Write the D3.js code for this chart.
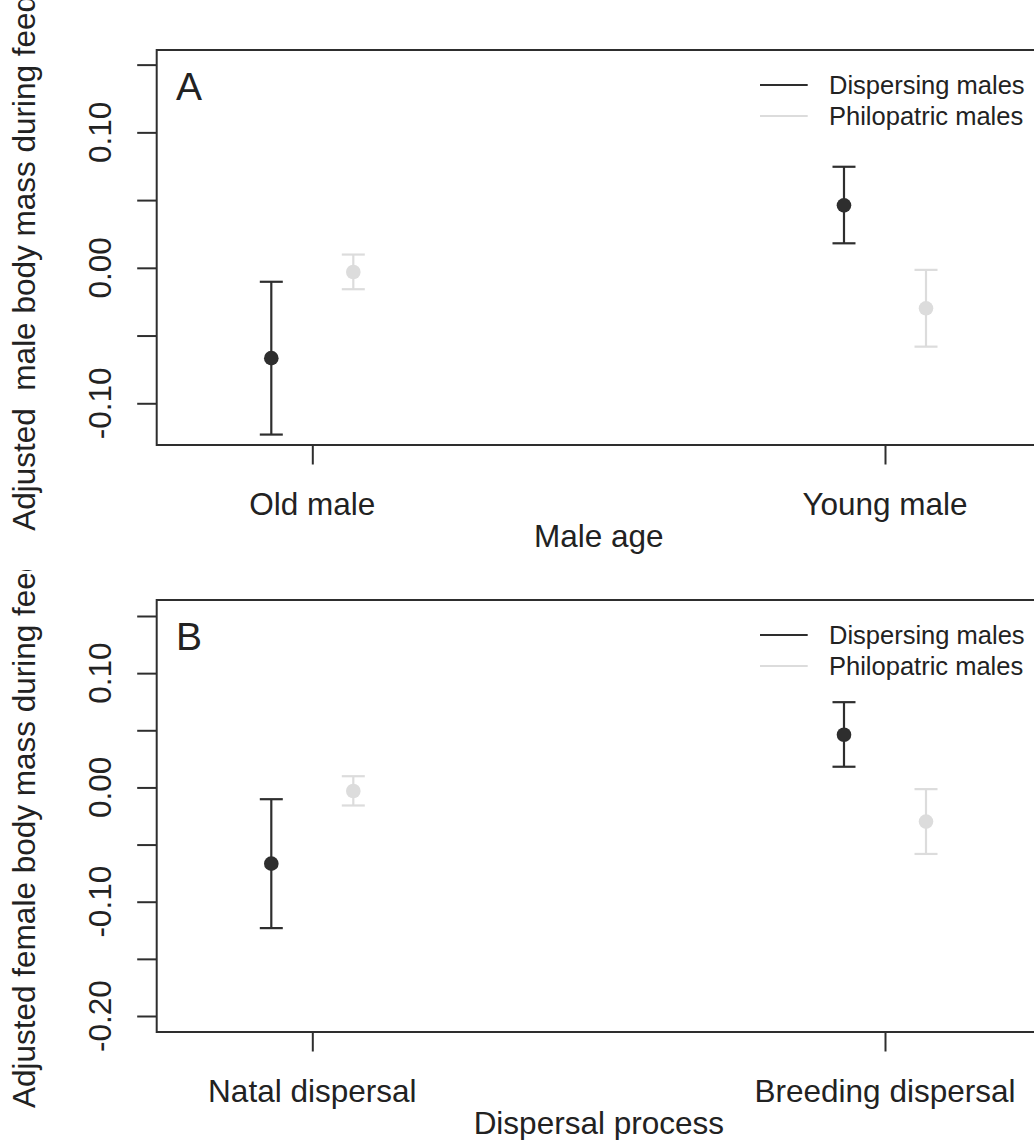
<!DOCTYPE html>
<html>
<head>
<meta charset="utf-8">
<script src="https://cdn.jsdelivr.net/npm/d3@7"></script>
<style>
  html, body { margin: 0; padding: 0; background: #fff; }
  svg { display: block; }
  text { font-family: "Liberation Sans", Arial, Helvetica, sans-serif; fill: #222; }
</style>
</head>
<body>
<svg id="chart" width="1034" height="1140"></svg>
<script>
// ---- data ----
const categoriesA = ["Old male", "Young male"];
const categoriesB = ["Natal dispersal", "Breeding dispersal"];
const seriesNames = ["Dispersing males", "Philopatric males"];
const dispersingMean = [-0.0667, 0.0461];
const dispersingLower = [-0.1231, 0.0181];
const dispersingUpper = [-0.0103, 0.0746];
const philopatricMean = [-0.0031, -0.0299];
const philopatricLower = [-0.0158, -0.0582];
const philopatricUpper = [0.0098, -0.0015];
const yTicksA = [-0.10, -0.05, 0.00, 0.05, 0.10, 0.15];
const yLabelsA = [-0.10, 0.00, 0.10];
const yTicksB = [-0.20, -0.15, -0.10, -0.05, 0.00, 0.05, 0.10, 0.15];
const yLabelsB = [-0.20, -0.10, 0.00, 0.10];
const ylimA = [-0.12, 0.15];
const ylimB = [-0.20, 0.15];

// ---- styling / layout ----
const dark = "#2e2e2e";
const light = "#dcdcdc";
const axisFont = 31.5;
const legendFont = 25.5;
const labelFont = 39;
const tickLen = 19.5;
const capHalf = 11.5;
const pointR = 7.3;
const dodge = 0.0716;

const svg = d3.select("#chart");
svg.append("rect").attr("width", 1034).attr("height", 1140).attr("fill", "#fff");

function expand(lim) { const d = (lim[1] - lim[0]) * 0.04; return [lim[0] - d, lim[1] + d]; }

const x = d3.scaleLinear().domain([0.7283, 2.2717]).range([156.7, 1040.6]);

const panels = [
  { letter: "A", cats: categoriesA, xlab: "Male age",
    ylab: "Adjusted  male body mass during feeding",
    ylim: ylimA, ticks: yTicksA, labels: yLabelsA,
    top: 50, bottom: 445, figTop: 0, figBottom: 570 },
  { letter: "B", cats: categoriesB, xlab: "Dispersal process",
    ylab: "Adjusted female body mass during feeding",
    ylim: ylimB, ticks: yTicksB, labels: yLabelsB,
    top: 600, bottom: 1032, figTop: 570, figBottom: 1140 }
];

const series = [
  { name: seriesNames[0], mean: dispersingMean, lo: dispersingLower, hi: dispersingUpper, color: dark, off: -dodge },
  { name: seriesNames[1], mean: philopatricMean, lo: philopatricLower, hi: philopatricUpper, color: light, off: dodge }
];

panels.forEach((p, pi) => {
  const y = d3.scaleLinear().domain(expand(p.ylim)).range([p.bottom, p.top]);
  const clipId = "fig" + pi;
  svg.append("clipPath").attr("id", clipId)
    .append("rect").attr("x", 0).attr("y", p.figTop).attr("width", 1034).attr("height", p.figBottom - p.figTop);
  const g = svg.append("g").attr("clip-path", `url(#${clipId})`);

  // box
  g.append("rect")
    .attr("x", x.range()[0]).attr("y", p.top)
    .attr("width", x.range()[1] - x.range()[0]).attr("height", p.bottom - p.top)
    .attr("fill", "none").attr("stroke", dark).attr("stroke-width", 2);

  // y axis ticks
  const yAxis = d3.axisLeft(y).tickValues(p.ticks).tickSize(tickLen).tickFormat("");
  const ya = g.append("g").attr("transform", `translate(${x.range()[0]},0)`).call(yAxis);
  ya.select(".domain").remove();
  ya.selectAll(".tick line").attr("stroke", dark).attr("stroke-width", 2);

  // y tick labels (rotated)
  g.selectAll(".ylab" + pi).data(p.labels).enter().append("text")
    .attr("transform", d => `translate(111,${y(d)}) rotate(-90)`)
    .attr("text-anchor", "middle")
    .attr("font-size", axisFont)
    .text(d => d3.format(".2f")(d).replace("−", "-"));

  // x axis ticks
  const xAxis = d3.axisBottom(x).tickValues([1, 2]).tickSize(tickLen).tickFormat("");
  const xa = g.append("g").attr("transform", `translate(0,${p.bottom})`).call(xAxis);
  xa.select(".domain").remove();
  xa.selectAll(".tick line").attr("stroke", dark).attr("stroke-width", 2);

  // x tick labels
  g.selectAll(".xlab" + pi).data(p.cats).enter().append("text")
    .attr("x", (d, i) => x(i + 1)).attr("y", p.bottom + 70)
    .attr("text-anchor", "middle").attr("font-size", axisFont)
    .text(d => d);

  // x title
  g.append("text").attr("x", 598.8).attr("y", p.bottom + 101.7)
    .attr("text-anchor", "middle").attr("font-size", axisFont).text(p.xlab);

  // y title (clipped by its figure region, as in the original)
  g.append("text")
    .attr("transform", `translate(35,${(p.top + p.bottom) / 2 - 5.7}) rotate(-90)`)
    .attr("text-anchor", "middle").attr("font-size", axisFont)
    .style("white-space", "pre").attr("xml:space", "preserve")
    .text(p.ylab);

  // panel letter
  g.append("text").attr("x", 176).attr("y", p.top + 49.5)
    .attr("font-size", labelFont).text(p.letter);

  // error bars and points
  series.forEach(s => {
    const sg = g.append("g");
    s.mean.forEach((m, i) => {
      const cx = x(i + 1 + s.off);
      sg.append("line").attr("x1", cx).attr("x2", cx).attr("y1", y(s.lo[i])).attr("y2", y(s.hi[i]))
        .attr("stroke", s.color).attr("stroke-width", 2.2);
      [s.lo[i], s.hi[i]].forEach(v => {
        sg.append("line").attr("x1", cx - capHalf).attr("x2", cx + capHalf).attr("y1", y(v)).attr("y2", y(v))
          .attr("stroke", s.color).attr("stroke-width", 2.2);
      });
      sg.append("circle").attr("cx", cx).attr("cy", y(m)).attr("r", pointR).attr("fill", s.color);
    });
  });

  // legend
  series.forEach((s, i) => {
    const ly = p.top + 35 + i * 31;
    g.append("line").attr("x1", 760).attr("x2", 807.7).attr("y1", ly).attr("y2", ly)
      .attr("stroke", s.color).attr("stroke-width", 2);
    g.append("text").attr("x", 829).attr("y", ly + 9).attr("font-size", legendFont).text(s.name);
  });
});
</script>
</body>
</html>
